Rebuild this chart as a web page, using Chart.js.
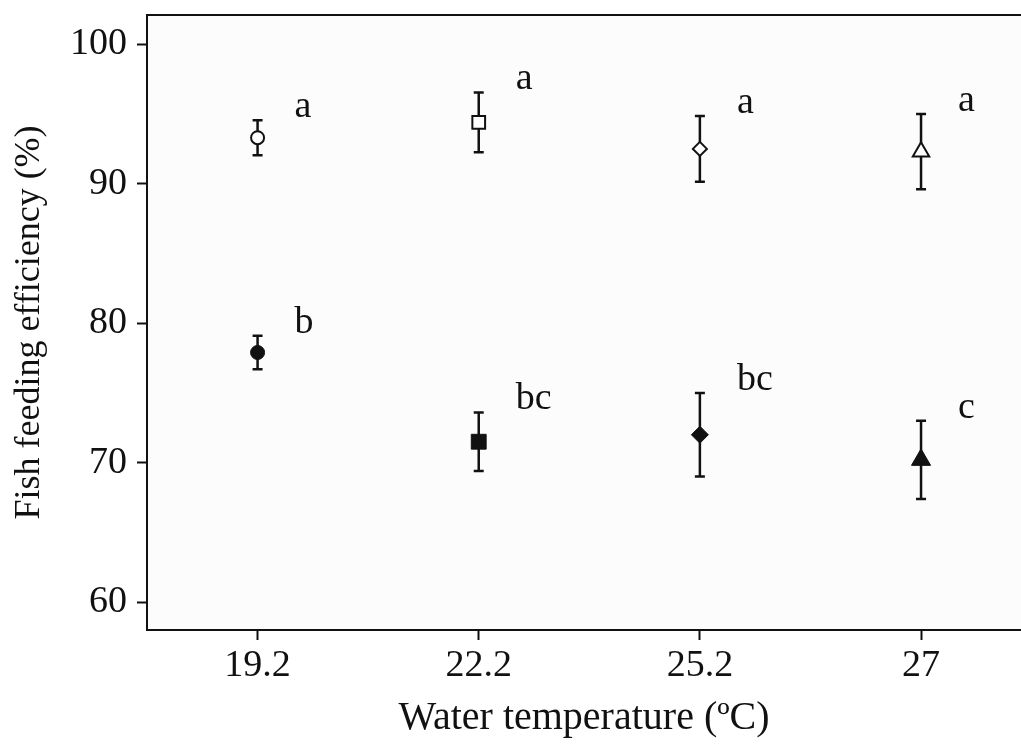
<!DOCTYPE html>
<html>
<head>
<meta charset="utf-8">
<script src="https://cdn.jsdelivr.net/npm/chart.js@4.4.1/dist/chart.umd.min.js"></script>
<style>
  html, body { margin: 0; padding: 0; background: #ffffff; }
  canvas { display: block; }
</style>
</head>
<body>
<canvas id="grafico" width="1021" height="751"></canvas>
<script>
// temperaturas (categorias do eixo x)
const temperaturas = ['19.2', '22.2', '25.2', '27'];
// serie de simbolos abertos (parte superior)
const mediasAbertas = [93.3, 94.4, 92.5, 92.3];
const errosAbertos = [1.25, 2.15, 2.35, 2.7];
const letrasAbertas = ['a', 'a', 'a', 'a'];
// serie de simbolos cheios (parte inferior)
const mediasCheias = [77.9, 71.5, 72.0, 70.2];
const errosCheios = [1.2, 2.1, 3.0, 2.8];
const letrasCheias = ['b', 'bc', 'bc', 'c'];
// ticks do eixo y
const ticksY = [60, 70, 80, 90, 100];

const simbolos = ['circle', 'rect', 'rectRot', 'triangle'];
const raiosAbertos = [6.5, 9, 7, 9.5];
const raiosCheios = [7, 10.5, 8.5, 11];
const fonte = '"Liberation Serif", "Times New Roman", serif';

function pontos(medias) {
    return medias.map((v, i) => ({ x: i, y: v }));
}

// fundo cinza claro da area do grafico + linha superior
const fundoPlugin = {
    id: 'fundo',
    beforeDraw(chart) {
        const { ctx, chartArea: a } = chart;
        ctx.save();
        ctx.fillStyle = '#fcfcfc';
        ctx.fillRect(a.left, a.top, a.right - a.left, a.bottom - a.top);
        ctx.restore();
    },
    afterDraw(chart) {
        const { ctx, chartArea: a } = chart;
        ctx.save();
        ctx.strokeStyle = '#111';
        ctx.lineWidth = 2;
        ctx.beginPath();
        ctx.moveTo(a.left - 1, a.top);
        ctx.lineTo(a.right, a.top);
        ctx.stroke();
        ctx.restore();
    }
};

// barras de erro desenhadas antes dos simbolos
const errosPlugin = {
    id: 'barrasErro',
    beforeDatasetsDraw(chart) {
        const { ctx, scales: { x, y } } = chart;
        const series = [[mediasAbertas, errosAbertos], [mediasCheias, errosCheios]];
        ctx.save();
        ctx.strokeStyle = '#111';
        ctx.lineWidth = 2.5;
        series.forEach(([medias, erros]) => {
            medias.forEach((m, i) => {
                const px = x.getPixelForValue(i);
                const topo = y.getPixelForValue(m + erros[i]);
                const base = y.getPixelForValue(m - erros[i]);
                ctx.beginPath();
                ctx.moveTo(px, topo);
                ctx.lineTo(px, base);
                ctx.moveTo(px - 5, topo);
                ctx.lineTo(px + 5, topo);
                ctx.moveTo(px - 5, base);
                ctx.lineTo(px + 5, base);
                ctx.stroke();
            });
        });
        ctx.restore();
    }
};

// letras de significancia
const letrasPlugin = {
    id: 'letras',
    afterDatasetsDraw(chart) {
        const { ctx, scales: { x, y } } = chart;
        const series = [[mediasAbertas, errosAbertos, letrasAbertas], [mediasCheias, errosCheios, letrasCheias]];
        ctx.save();
        ctx.fillStyle = '#111';
        ctx.font = '38px ' + fonte;
        ctx.textAlign = 'left';
        ctx.textBaseline = 'alphabetic';
        series.forEach(([medias, erros, letras]) => {
            medias.forEach((m, i) => {
                const px = x.getPixelForValue(i) + 37;
                const py = y.getPixelForValue(m + erros[i]) - 3;
                ctx.fillText(letras[i], px, py);
            });
        });
        ctx.restore();
    }
};

new Chart(document.getElementById('grafico'), {
    type: 'scatter',
    data: {
        datasets: [{
            data: pontos(mediasAbertas),
            pointStyle: simbolos,
            pointRadius: raiosAbertos,
            pointHoverRadius: raiosAbertos,
            pointBackgroundColor: '#ffffff',
            pointBorderColor: '#111',
            pointBorderWidth: 2
        }, {
            data: pontos(mediasCheias),
            pointStyle: simbolos,
            pointRadius: raiosCheios,
            pointHoverRadius: raiosCheios,
            pointBackgroundColor: '#111',
            pointBorderColor: '#111',
            pointBorderWidth: 1
        }]
    },
    options: {
        responsive: false,
        animation: false,
        layout: { autoPadding: false, padding: { top: 15, right: 0, left: 0, bottom: 0 } },
        plugins: { legend: { display: false }, tooltip: { enabled: false } },
        scales: {
            x: {
                type: 'linear',
                min: -0.5,
                max: 3.452,
                afterFit: s => {
                    s.height = 121;
                    s.paddingLeft = 0;
                    s.paddingRight = 0;
                },
                afterBuildTicks: s => { s.ticks = temperaturas.map((t, i) => ({ value: i })); },
                grid: { drawOnChartArea: false, color: '#111', tickLength: 10, tickWidth: 2 },
                border: { color: '#111', width: 2 },
                ticks: {
                    color: '#111',
                    font: { family: fonte, size: 38 },
                    padding: 3,
                    callback: v => temperaturas[v]
                },
                title: {
                    display: true,
                    text: 'Water temperature (ºC)',
                    color: '#111',
                    font: { family: fonte, size: 40 },
                    padding: { top: 0, bottom: 9 }
                }
            },
            y: {
                min: 58,
                max: 102.1,
                afterFit: s => {
                    s.width = 147;
                    s.paddingTop = 0;
                    s.paddingBottom = 0;
                },
                afterBuildTicks: s => { s.ticks = ticksY.map(v => ({ value: v })); },
                grid: { drawOnChartArea: false, color: '#111', tickLength: 10, tickWidth: 2 },
                border: { color: '#111', width: 2 },
                ticks: {
                    color: '#111',
                    font: { family: fonte, size: 38 },
                    padding: 10
                },
                title: {
                    display: true,
                    text: 'Fish feeding efficiency (%)',
                    color: '#111',
                    font: { family: fonte, size: 36 },
                    padding: { top: 8, bottom: 0 }
                }
            }
        }
    },
    plugins: [fundoPlugin, errosPlugin, letrasPlugin]
});
</script>
</body>
</html>
